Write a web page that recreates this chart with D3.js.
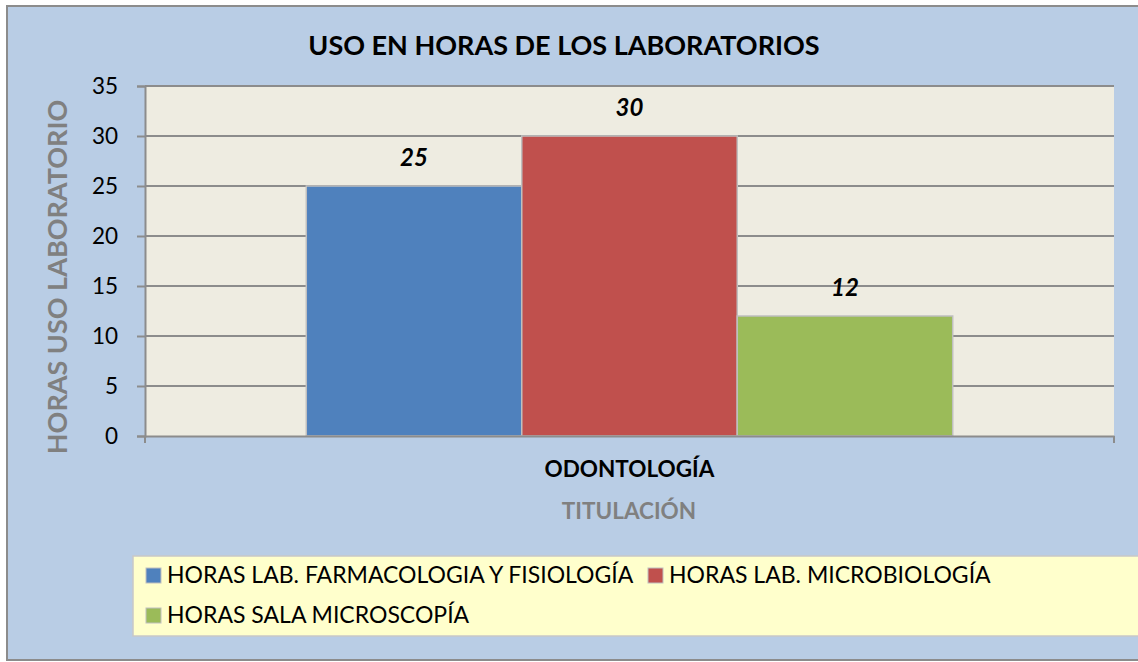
<!DOCTYPE html>
<html><head><meta charset="utf-8">
<script src="https://cdn.jsdelivr.net/npm/d3@7"></script>
<style>body{margin:0;background:#fff}svg{display:block}text{font-family:Lato,"Open Sans",sans-serif}</style>
</head><body><svg id="c" width="1138" height="662"></svg>
<script>
const title = "USO EN HORAS DE LOS LABORATORIOS";
const categories = ["ODONTOLOGÍA"];
const seriesNames = ["HORAS LAB. FARMACOLOGIA Y FISIOLOGÍA","HORAS LAB. MICROBIOLOGÍA","HORAS SALA MICROSCOPÍA"];
const seriesValues = [25, 30, 12];
const seriesColors = ["#4F81BD","#C0504D","#9BBB59"];
const yTicks = [0,5,10,15,20,25,30,35];
const yTitle = "HORAS USO LABORATORIO";
const xTitle = "TITULACIÓN";

const svg = d3.select("#c");
svg.append("rect").attr("x",7).attr("y",6).attr("width",1140).attr("height",654)
  .attr("fill","#B9CDE5").attr("stroke","#8C8C8C").attr("stroke-width",2);

const m = {l:145,t:86,r:1114,b:436};
const y = d3.scaleLinear().domain([0,35]).range([m.b,m.t]);
const x0 = d3.scaleBand().domain(categories).range([m.l,m.r]).paddingInner(0).paddingOuter(0.2495);
const x1 = d3.scaleBand().domain(seriesNames).range([0,x0.bandwidth()]).padding(0);

svg.append("rect").attr("x",m.l).attr("y",m.t).attr("width",m.r-m.l).attr("height",m.b-m.t).attr("fill","#EEECE1");

// gridlines
svg.append("g").selectAll("line").data(yTicks.filter(d=>d>0)).join("line")
  .attr("x1",m.l).attr("x2",m.r).attr("y1",d=>y(d)).attr("y2",d=>y(d))
  .attr("stroke","#8C8C8C").attr("stroke-width",2);

// bars
const data = seriesNames.map((s,i)=>({cat:categories[0],s,v:seriesValues[i],c:seriesColors[i]}));
svg.append("g").selectAll("rect").data(data).join("rect")
  .attr("x",d=>x0(d.cat)+x1(d.s)).attr("y",d=>y(d.v))
  .attr("width",x1.bandwidth()).attr("height",d=>y(0)-y(d.v))
  .attr("fill",d=>d.c).attr("stroke","#BFBFBF").attr("stroke-width",1.5);

// labels
svg.append("g").selectAll("text").data(data).join("text")
  .attr("x",d=>x0(d.cat)+x1(d.s)+x1.bandwidth()/2).attr("y",d=>y(d.v)-20)
  .attr("text-anchor","middle").attr("font-size",24).attr("font-weight","bold").attr("font-style","italic")
  .attr("fill","#000").text(d=>d.v);

// y axis
const ya = d3.axisLeft(y).tickValues(yTicks).tickSize(8).tickPadding(19);
const yg = svg.append("g").attr("transform",`translate(${m.l},0)`).call(ya);
yg.select(".domain").attr("stroke","#8C8C8C").attr("stroke-width",2);
yg.selectAll(".tick line").attr("stroke","#8C8C8C").attr("stroke-width",2);
yg.selectAll(".tick text").attr("font-size",22.5).attr("fill","#000").attr("font-family","Lato,'Open Sans',sans-serif");

// x axis
const xa = d3.axisBottom(x0).tickSize(0).tickFormat(()=>"");
const xg = svg.append("g").attr("transform",`translate(0,${m.b})`).call(xa);
xg.select(".domain").attr("stroke","#8C8C8C").attr("stroke-width",2);
xg.append("g").selectAll("line").data([m.l,m.r]).join("line")
  .attr("x1",d=>d).attr("x2",d=>d).attr("y1",0).attr("y2",7).attr("stroke","#8C8C8C").attr("stroke-width",2);
svg.append("g").selectAll("text").data(categories).join("text")
  .attr("x",d=>x0(d)+x0.bandwidth()/2).attr("y",477).attr("text-anchor","middle")
  .attr("font-size",22.5).attr("font-weight","bold").attr("fill","#000").text(d=>d);

svg.append("text").attr("x",629).attr("y",519).attr("text-anchor","middle")
  .attr("font-size",22.5).attr("font-weight","bold").attr("fill","#808080").text(xTitle);

svg.append("text").attr("transform","translate(67,277) rotate(-90)").attr("text-anchor","middle")
  .attr("font-size",27).attr("font-weight","bold").attr("fill","#808080").text(yTitle);

svg.append("text").attr("x",564).attr("y",55).attr("text-anchor","middle")
  .attr("font-size",27).attr("font-weight","bold").attr("fill","#000").text(title);

// legend
svg.append("rect").attr("x",133).attr("y",556).attr("width",1010).attr("height",80)
  .attr("fill","#FFFFCC").attr("stroke","#C8C8C8").attr("stroke-width",1.5);
const legPos = [[146,583],[648,583],[146,623]];
const lg = svg.append("g").selectAll("g").data(seriesNames).join("g")
  .attr("transform",(d,i)=>`translate(${legPos[i][0]},${legPos[i][1]})`);
lg.append("rect").attr("x",0).attr("y",-15).attr("width",15).attr("height",15)
  .attr("fill",(d,i)=>seriesColors[i]).attr("stroke","#BFBFBF").attr("stroke-width",1);
lg.append("text").attr("x",21).attr("y",0).attr("font-size",23).attr("fill","#000").text(d=>d);
</script></body></html>
